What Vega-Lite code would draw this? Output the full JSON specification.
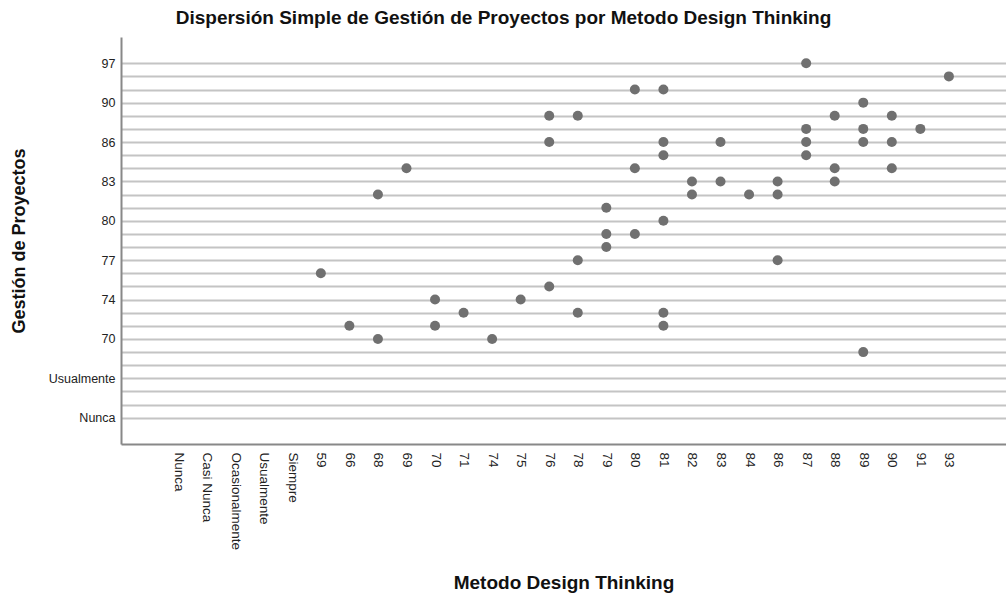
{
  "$schema": "https://vega.github.io/schema/vega-lite/v6.json",
  "width": 885,
  "height": 407,
  "autosize": {"type": "none"},
  "padding": {"left": 121, "top": 37, "right": 0, "bottom": 155},
  "background": "white",
  "title": {
    "text": "Dispersión Simple de Gestión de Proyectos por Metodo Design Thinking",
    "font": "Liberation Sans",
    "fontSize": 19,
    "fontWeight": "bold",
    "color": "#111111",
    "anchor": "middle",
    "frame": "group",
    "dx": -60,
    "offset": 9
  },
  "config": {
    "view": {"stroke": null},
    "font": "Liberation Sans"
  },
  "data": {
    "values": [
      {"metodo": "87", "gestion": "97"},
      {"metodo": "93", "gestion": "93"},
      {"metodo": "80", "gestion": "92"},
      {"metodo": "81", "gestion": "92"},
      {"metodo": "89", "gestion": "90"},
      {"metodo": "76", "gestion": "89"},
      {"metodo": "78", "gestion": "89"},
      {"metodo": "88", "gestion": "89"},
      {"metodo": "90", "gestion": "89"},
      {"metodo": "87", "gestion": "88"},
      {"metodo": "89", "gestion": "88"},
      {"metodo": "91", "gestion": "88"},
      {"metodo": "76", "gestion": "86"},
      {"metodo": "81", "gestion": "86"},
      {"metodo": "83", "gestion": "86"},
      {"metodo": "87", "gestion": "86"},
      {"metodo": "89", "gestion": "86"},
      {"metodo": "90", "gestion": "86"},
      {"metodo": "81", "gestion": "85"},
      {"metodo": "87", "gestion": "85"},
      {"metodo": "69", "gestion": "84"},
      {"metodo": "80", "gestion": "84"},
      {"metodo": "88", "gestion": "84"},
      {"metodo": "90", "gestion": "84"},
      {"metodo": "82", "gestion": "83"},
      {"metodo": "83", "gestion": "83"},
      {"metodo": "86", "gestion": "83"},
      {"metodo": "88", "gestion": "83"},
      {"metodo": "68", "gestion": "82"},
      {"metodo": "82", "gestion": "82"},
      {"metodo": "84", "gestion": "82"},
      {"metodo": "86", "gestion": "82"},
      {"metodo": "79", "gestion": "81"},
      {"metodo": "81", "gestion": "80"},
      {"metodo": "79", "gestion": "79"},
      {"metodo": "80", "gestion": "79"},
      {"metodo": "79", "gestion": "78"},
      {"metodo": "78", "gestion": "77"},
      {"metodo": "86", "gestion": "77"},
      {"metodo": "59", "gestion": "76"},
      {"metodo": "76", "gestion": "75"},
      {"metodo": "70", "gestion": "74"},
      {"metodo": "75", "gestion": "74"},
      {"metodo": "71", "gestion": "73"},
      {"metodo": "78", "gestion": "73"},
      {"metodo": "81", "gestion": "73"},
      {"metodo": "66", "gestion": "72"},
      {"metodo": "70", "gestion": "72"},
      {"metodo": "81", "gestion": "72"},
      {"metodo": "68", "gestion": "70"},
      {"metodo": "74", "gestion": "70"},
      {"metodo": "89", "gestion": "68"}
    ]
  },
  "mark": {"type": "circle", "size": 100, "color": "#707070", "opacity": 1},
  "encoding": {
    "x": {
      "field": "metodo",
      "type": "ordinal",
      "scale": {
        "type": "point",
        "padding": 1,
        "domain": ["_a", "Nunca", "Casi Nunca", "Ocasionalmente", "Usualmente", "Siempre", "59", "66", "68", "69", "70", "71", "74", "75", "76", "78", "79", "80", "81", "82", "83", "84", "86", "87", "88", "89", "90", "91", "93", "_b"]
      },
      "axis": {
        "title": "Metodo Design Thinking",
        "titleFont": "Liberation Sans",
        "titleFontSize": 19,
        "titleFontWeight": "bold",
        "titleColor": "#111111",
        "titlePadding": 24,
        "labelExpr": "indexof(datum.value, '_') == 0 ? '' : datum.label",
        "labelAngle": 90,
        "labelAlign": "left",
        "labelBaseline": "middle",
        "labelFontSize": 13.5,
        "labelColor": "#222222",
        "labelPadding": 8,
        "ticks": false,
        "grid": false,
        "domainColor": "#888888",
        "domainWidth": 2
      }
    },
    "y": {
      "field": "gestion",
      "type": "ordinal",
      "scale": {
        "type": "point",
        "padding": 1,
        "domain": ["_c", "97", "93", "92", "90", "89", "88", "86", "85", "84", "83", "82", "81", "80", "79", "78", "77", "76", "75", "74", "73", "72", "70", "68", "Siempre", "Usualmente", "Ocasionalmente", "Casi Nunca", "Nunca", "_d"]
      },
      "axis": {
        "title": "Gestión de Proyectos",
        "titleFont": "Liberation Sans",
        "titleFontSize": 18,
        "titleFontWeight": "bold",
        "titleColor": "#111111",
        "titlePadding": 20,
        "labelExpr": "indexof(['97','90','86','83','80','77','74','70','Usualmente','Nunca'], datum.value) >= 0 ? datum.label : ''",
        "labelFontSize": 12.5,
        "labelColor": "#222222",
        "labelPadding": 6,
        "ticks": false,
        "grid": true,
        "gridColor": {"condition": {"test": "indexof(datum.value, '_') == 0", "value": "transparent"}, "value": "#c4c4c4"},
        "gridWidth": 2,
        "domainColor": "#888888",
        "domainWidth": 2
      }
    }
  }
}
